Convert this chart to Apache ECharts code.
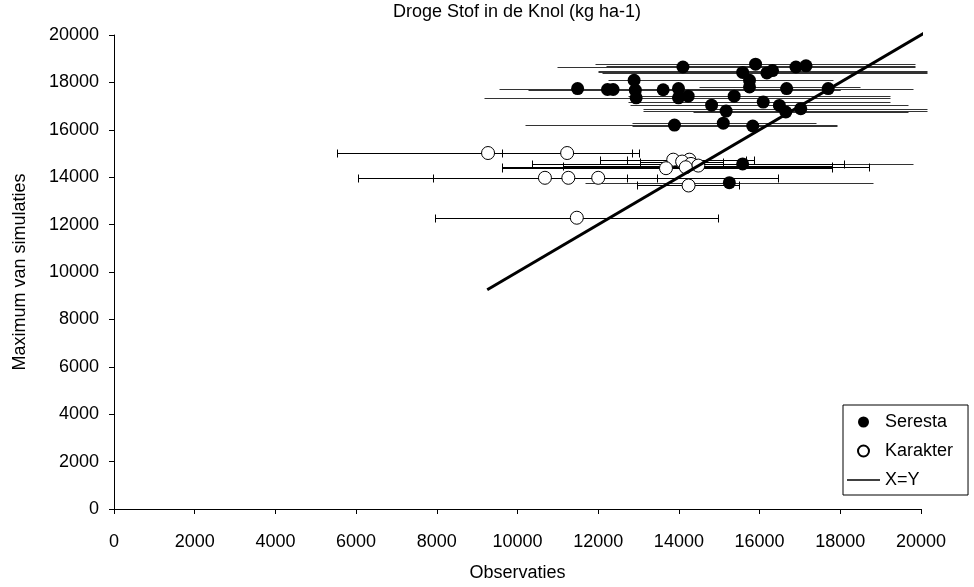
<!DOCTYPE html>
<html>
<head>
<meta charset="utf-8">
<script src="https://cdn.jsdelivr.net/npm/echarts@6/dist/echarts.min.js"></script>
<style>
  html, body { margin: 0; padding: 0; background: #fff; }
  #chart { width: 974px; height: 587px; }
</style>
</head>
<body>
<div id="chart"></div>
<script>
// Axis ticks
const axisTicks = [0, 2000, 4000, 6000, 8000, 10000, 12000, 14000, 16000, 18000, 20000];

// Seresta: observed, simulated maximum and the observation range
const serestaObs  = [14100, 15900, 15580, 16180, 16320, 16900, 17150, 12890, 15750, 15750, 11490, 12230, 12370, 12920, 13610, 13990, 16670, 17700, 12940, 13990, 14230, 15370, 14810, 16090, 16490, 15170, 16650, 17020, 13890, 15100, 15830, 15580, 15250];
const serestaSim  = [18650, 18770, 18420, 18400, 18500, 18650, 18700, 18090, 18090, 17810, 17740, 17700, 17700, 17670, 17690, 17740, 17740, 17740, 17350, 17350, 17420, 17420, 17040, 17170, 17030, 16790, 16750, 16890, 16200, 16280, 16160, 14560, 13770];
const serestaLow  = [10970, 11920, 12000, 12100, 12000, 11950, 12200, 12250, 14650, 14500, 9530, 10270, 11220, 10300, 11220, 12800, 14000, 15000, 9180, 10020, 12750, 12790, 12790, 12750, 14360, 13120, 14360, 13120, 10190, 12830, 12830, 11350, 11670];
const serestaHigh = [18940, 19850, 20160, 20160, 20140, 19850, 19850, 16920, 17830, 18500, 18820, 17990, 13610, 18000, 16000, 18700, 19000, 19800, 19230, 17990, 19230, 18740, 18740, 19230, 19690, 20160, 19690, 20160, 17910, 17410, 17910, 19810, 18820];

// Karakter: observed, simulated maximum and the observation range
const karakterObs  = [9270, 11230, 13860, 14260, 14080, 14300, 14480, 14170, 13680, 10680, 11260, 12000, 14240, 11470];
const karakterSim  = [15020, 15020, 14740, 14740, 14660, 14560, 14490, 14420, 14380, 13975, 13975, 13975, 13650, 12290];
const karakterLow  = [5530, 9610, 12040, 12710, 13040, 10350, 11140, 9605, 9605, 7900, 6050, 11290, 12970, 7950];
const karakterHigh = [13010, 12840, 15670, 15850, 15100, 18080, 17790, 18720, 17790, 13460, 16450, 12710, 15500, 14970];

// Reference line X=Y
const identityLine = [9250, 20200];

const font = '"Liberation Sans", Arial, sans-serif';
const fontSize = 18;

function rangeRows(low, high, sim) {
  return sim.map((y, i) => [low[i], high[i], y]);
}

// Horizontal range line, optionally with end caps
function rangeRenderer(withCaps, stroke) {
  return function (params, api) {
    const y = api.value(2);
    const a = api.coord([api.value(0), y]);
    const b = api.coord([api.value(1), y]);
    const yy = Math.round(a[1]) + 0.5;
    const x1 = Math.round(a[0]) + 0.5;
    const x2 = Math.round(b[0]) + 0.5;
    const style = { stroke: stroke, lineWidth: 1 };
    const children = [
      { type: 'line', shape: { x1: x1, y1: yy, x2: x2, y2: yy }, style: style }
    ];
    if (withCaps) {
      children.push({ type: 'line', shape: { x1: x1, y1: yy - 4, x2: x1, y2: yy + 4 }, style: style });
      children.push({ type: 'line', shape: { x1: x2, y1: yy - 4, x2: x2, y2: yy + 4 }, style: style });
    }
    return { type: 'group', children: children };
  };
}

const plainNumber = v => String(v);

const chart = echarts.init(document.getElementById('chart'), null, { renderer: 'canvas' });

chart.setOption({
  animation: false,
  backgroundColor: '#fff',
  textStyle: { fontFamily: font, color: '#000' },
  title: {
    text: 'Droge Stof in de Knol (kg ha-1)',
    left: 517,
    top: 3,
    padding: 0,
    textAlign: 'center',
    textStyle: { fontFamily: font, fontSize: fontSize, fontWeight: 'normal', color: '#000' }
  },
  legend: {
    orient: 'vertical',
    left: 843,
    top: 405,
    itemWidth: 33,
    itemHeight: 11,
    itemGap: 11,
    padding: [8, 15, 6, 4],
    borderColor: '#000',
    borderWidth: 1,
    textStyle: { fontFamily: font, fontSize: fontSize, color: '#000' },
    data: [
      { name: 'Seresta' },
      { name: 'Karakter' },
      { name: 'X=Y', icon: 'path://M0,0L40,0L40,2L0,2Z' }
    ]
  },
  grid: { left: 114, right: 53, top: 35, bottom: 74, containLabel: false },
  xAxis: {
    type: 'value',
    min: axisTicks[0],
    max: axisTicks[axisTicks.length - 1],
    interval: axisTicks[1] - axisTicks[0],
    name: 'Observaties',
    nameLocation: 'middle',
    nameGap: 55,
    nameTextStyle: { fontFamily: font, fontSize: fontSize, color: '#000' },
    axisLine: { show: true, lineStyle: { color: '#000', width: 1 } },
    axisTick: { show: true, inside: false, length: 5, lineStyle: { color: '#000' } },
    axisLabel: { fontFamily: font, fontSize: fontSize, color: '#000', margin: 24, formatter: plainNumber },
    splitLine: { show: false }
  },
  yAxis: {
    type: 'value',
    min: axisTicks[0],
    max: axisTicks[axisTicks.length - 1],
    interval: axisTicks[1] - axisTicks[0],
    name: 'Maximum van simulaties',
    nameLocation: 'middle',
    nameGap: 85,
    nameTextStyle: { fontFamily: font, fontSize: fontSize, color: '#000' },
    axisLine: { show: true, lineStyle: { color: '#000', width: 1 } },
    axisTick: { show: true, inside: false, length: 5, lineStyle: { color: '#000' } },
    axisLabel: { fontFamily: font, fontSize: fontSize, color: '#000', margin: 15, formatter: plainNumber },
    splitLine: { show: false }
  },
  series: [
    {
      name: 'Seresta range',
      type: 'custom',
      renderItem: rangeRenderer(false, '#333'),
      data: rangeRows(serestaLow, serestaHigh, serestaSim),
      encode: { x: [0, 1], y: 2 },
      silent: true,
      z: 1
    },
    {
      name: 'Seresta',
      type: 'scatter',
      symbol: 'circle',
      symbolSize: 13,
      itemStyle: { color: '#000', opacity: 1 },
      data: serestaObs.map((x, i) => [x, serestaSim[i]]),
      z: 2
    },
    {
      name: 'Karakter range',
      type: 'custom',
      renderItem: rangeRenderer(true, '#000'),
      data: rangeRows(karakterLow, karakterHigh, karakterSim),
      encode: { x: [0, 1], y: 2 },
      silent: true,
      z: 3
    },
    {
      name: 'Karakter',
      type: 'scatter',
      symbol: 'circle',
      symbolSize: 13,
      itemStyle: { color: '#fff', borderColor: '#000', borderWidth: 1, opacity: 1 },
      data: karakterObs.map((x, i) => [x, karakterSim[i]]),
      z: 4
    },
    {
      name: 'X=Y',
      type: 'line',
      symbol: 'none',
      showSymbol: false,
      clip: false,
      color: '#000',
      lineStyle: { color: '#000', width: 3 },
      data: identityLine.map(v => [v, v]),
      z: 5
    }
  ]
});
</script>
</body>
</html>
